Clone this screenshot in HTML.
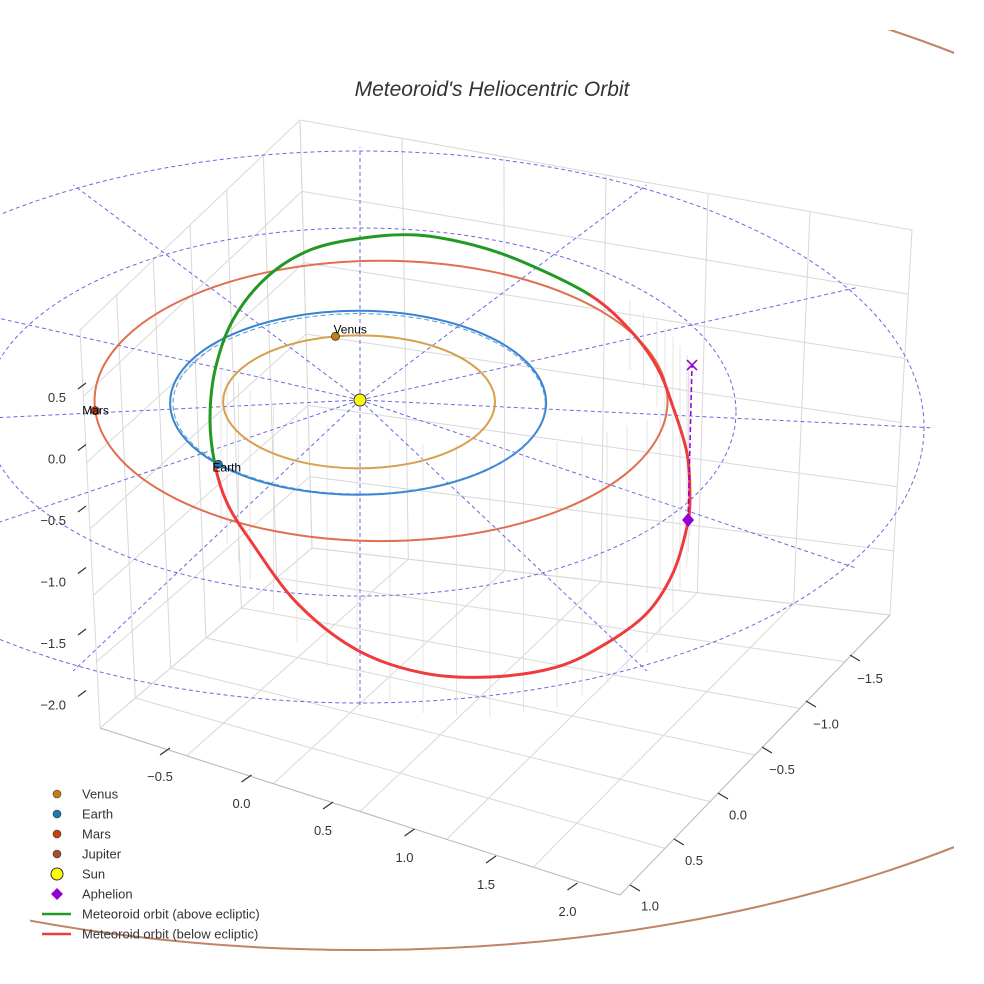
<!DOCTYPE html>
<html><head><meta charset="utf-8"><style>
html,body{margin:0;padding:0;background:#fff}
svg{display:block;font-family:"Liberation Sans",sans-serif}
</style></head><body>
<svg id="chart" width="984" height="984" viewBox="0 0 984 984" xmlns="http://www.w3.org/2000/svg">
<text x="492" y="96" text-anchor="middle" font-size="21" font-style="italic" fill="#333">Meteoroid's Heliocentric Orbit</text>
<g id="box"></g>
<g id="ecl"></g>
<g id="marks"></g>
<g id="ticks"></g>
<g id="legend"></g>
</svg>
<script>
// ---- data ----
const planetNames = ["Venus","Earth","Mars","Jupiter"];
const planetRadii = [0.723, 1.0, 1.524, 5.2];
const planetCenterX = [-0.005, -0.01, 0.112];
const planetCenterY = [-0.02, -0.03, -0.01];
const planetAngles = [100, 222, 184];
const planetColors = ["#c8800a","#1f77b4","#c8400c","#a0522d"];
const orbitColors = ["#d6a04c","#3b82d0","#e07050","#c08466"];
const ringRadii = [2, 3];
const spokeAngles = [0,30,60,90,120,150,180,210,240,270,300,330];
// meteoroid orbit (ecliptic-projected coords, AU), closed loop (last point = first)
const orbitX = [-0.771,-0.798,-0.771,-0.676,-0.495,-0.266,0.016,0.303,0.601,0.867,1.223,1.436,1.580,1.665,1.739,1.755,1.739,1.665,1.527,1.314,1.048,0.691,0.335,-0.016,-0.335,-0.585,-0.707,-0.771];
const orbitY = [-0.707,-0.217,0.326,0.870,1.337,1.630,1.761,1.793,1.685,1.500,1.141,0.761,0.359,-0.076,-0.576,-1.054,-1.380,-1.880,-2.315,-2.641,-2.902,-3.011,-2.967,-2.717,-2.207,-1.522,-1.120,-0.707];
const aboveCount = 11;
const aphelion = [1.745,-1.304];
const aphelionTop = [1.766,0.380];
const zTicks = ["0.5","0.0","\u22120.5","\u22121.0","\u22121.5","\u22122.0"];
const xTicks = ["\u22120.5","0.0","0.5","1.0","1.5","2.0"];
const yTicks = ["\u22121.5","\u22121.0","\u22120.5","0.0","0.5","1.0"];
const legendLabels = ["Venus","Earth","Mars","Jupiter","Sun","Aphelion","Meteoroid orbit (above ecliptic)","Meteoroid orbit (below ecliptic)"];

// ---- projection ----
const CX=360, CY=400, SX=188, SY=92;
function px(x){return CX+SX*x;}
function py(y,r){return CY-SY*y + 3*(r||0)*(r||0);}
const NS="http://www.w3.org/2000/svg";
function mk(tag,attrs,parent){const e=document.createElementNS(NS,tag);for(const k in attrs)e.setAttribute(k,attrs[k]);parent.appendChild(e);return e;}

// ---- box grid ----
const box=document.getElementById('box');
function ln(a,b,c,w){const l=mk('line',{x1:a[0],y1:a[1],x2:b[0],y2:b[1],stroke:c||'#d8d8d8','stroke-width':w||1},box);

}
const A=[100,728],B=[620,895],C=[890,615],D=[312,548];
const At=[80,330],Dt=[300,120],Ct=[912,230];
function lerp(p,q,t){return [p[0]+(q[0]-p[0])*t,p[1]+(q[1]-p[1])*t];}
for(let i=0;i<=6;i++){const t=i/6;ln(lerp(A,B,t),lerp(D,C,t));ln(lerp(A,D,t),lerp(B,C,t));}
for(let i=0;i<=6;i++){const t=i/6;ln(lerp(A,D,t),lerp(At,Dt,t));}
for(let i=0;i<=6;i++){const t=i/6;ln(lerp(A,At,t),lerp(D,Dt,t));}
for(let i=0;i<=6;i++){const t=i/6;ln(lerp(D,C,t),lerp(Dt,Ct,t));}
for(let i=0;i<=6;i++){const t=i/6;ln(lerp(D,Dt,t),lerp(C,Ct,t));}
ln(A,B,'#bbb');ln(B,C,'#bbb');

// ---- ecliptic grid ----
const ecl=document.getElementById('ecl');
ringRadii.forEach(r=>{const e=mk('ellipse',{cx:CX,cy:py(0,r),rx:SX*r,ry:SY*r,fill:'none',stroke:'#6a6ae0','stroke-width':1,'stroke-dasharray':'4,3'},ecl);

});
spokeAngles.forEach(a=>{const r=3.05,t=a*Math.PI/180;const l=mk('line',{x1:CX,y1:CY,x2:px(r*Math.cos(t)),y2:py(r*Math.sin(t),r),stroke:'#6a6ae0','stroke-width':1,'stroke-dasharray':'4,3'},ecl);

});

// ---- meteoroid drop lines ----
const marks=document.getElementById('marks');
for(let i=aboveCount;i<orbitX.length-1;i++){
  for(let k=0;k<2;k++){
    const fx=orbitX[i]+(orbitX[i+1]-orbitX[i])*k/2, fy=orbitY[i]+(orbitY[i+1]-orbitY[i])*k/2;
    const x=px(fx),y=py(fy);
    const top=y-Math.max(30,(-fy+1.2)*55);
    const l=mk('line',{x1:x,y1:Math.min(y+40,760),x2:x,y2:top,stroke:'#dedede','stroke-width':0.8},marks);
    
    
  }
}

// ---- planet orbits ----
const defs=mk('defs',{},document.getElementById('chart'));
const cp=mk('clipPath',{id:'clip'},defs);mk('rect',{x:30,y:30,width:924,height:924},cp);
planetRadii.forEach((r,i)=>{
  const jup=r>4;
  const cx=jup?CX:px(planetCenterX[i]), cy=jup?450:CY-SY*planetCenterY[i];
  const e=mk('ellipse',{cx:cx,cy:cy,rx:SX*r,ry:jup?500:SY*r,fill:'none',stroke:orbitColors[i],'stroke-width':2,'clip-path':'url(#clip)'},marks);
  
  
});
const ed=mk('ellipse',{cx:px(planetCenterX[1])+1,cy:CY-SY*planetCenterY[1]+1,rx:SX*0.99,ry:SY*0.98,fill:'none',stroke:'#4a9ad8','stroke-width':1,'stroke-dasharray':'5,3'},marks);



// ---- meteoroid orbit (closed Catmull-Rom) ----
const N=orbitX.length-1;
const P=[];for(let i=0;i<N;i++)P.push([px(orbitX[i]),py(orbitY[i])]);
function seg(from,to){
  let d='M'+P[from%N][0]+','+P[from%N][1];
  for(let i=from;i<to;i++){
    const p0=P[(i-1+N)%N],p1=P[i%N],p2=P[(i+1)%N],p3=P[(i+2)%N];
    d+=' C'+(p1[0]+(p2[0]-p0[0])/6)+','+(p1[1]+(p2[1]-p0[1])/6)+' '+(p2[0]-(p3[0]-p1[0])/6)+','+(p2[1]-(p3[1]-p1[1])/6)+' '+p2[0]+','+p2[1];
  }
  return d;
}
const red=mk('path',{d:seg(aboveCount-1,N),fill:'none',stroke:'#ee3b3b','stroke-width':3,'stroke-linecap':'round'},marks);


const green=mk('path',{d:seg(0,aboveCount-1),fill:'none',stroke:'#229922','stroke-width':3},marks);



// ---- aphelion ----
const ax=px(aphelion[0]),ay=py(aphelion[1]),tx=px(aphelionTop[0]),ty=py(aphelionTop[1]);
const al=mk('line',{x1:ax,y1:ay,x2:tx,y2:ty,stroke:'#9400d3','stroke-width':1.5,'stroke-dasharray':'5,3'},marks);


const xm=mk('path',{d:`M${tx-5},${ty-5}L${tx+5},${ty+5}M${tx-5},${ty+5}L${tx+5},${ty-5}`,stroke:'#9400d3','stroke-width':1.5},marks);


const dm=mk('path',{d:`M${ax},${ay-7}L${ax+6},${ay}L${ax},${ay+7}L${ax-6},${ay}Z`,fill:'#9400d3'},marks);



// ---- planets ----
const labelDx=[-2,-6,-13], labelDy=[-3,7,4];
for(let i=0;i<3;i++){
  const t=planetAngles[i]*Math.PI/180, r=planetRadii[i];
  const x=px(planetCenterX[i]+r*Math.cos(t)), y=CY-SY*(planetCenterY[i]+r*Math.sin(t));
  const c=mk('circle',{cx:x,cy:y,r:4,fill:planetColors[i],stroke:'#333','stroke-width':0.8},marks);
  
  
  const tl=mk('text',{x:x+labelDx[i],y:y+labelDy[i],'font-size':12,fill:'#000'},marks);tl.textContent=planetNames[i];
  
  
}
const sun=mk('circle',{cx:CX,cy:CY,r:6,fill:'#ffff00',stroke:'#333','stroke-width':1},marks);



// ---- ticks ----
const tk=document.getElementById('ticks');
function tick(lbl,x,y,dx,dy,lx,ly,anchor,name){
  const l=mk('line',{x1:x,y1:y,x2:x+dx,y2:y+dy,stroke:'#333','stroke-width':1.2},tk);
  
  
  const t=mk('text',{x:lx,y:ly,'font-size':13,fill:'#333','text-anchor':anchor},tk);t.textContent=lbl;
  
  
}
zTicks.forEach((s,i)=>tick(s,78,389+i*61.5,8,-6,66,402+i*61.5,'end','z'));
xTicks.forEach((s,i)=>tick(s,170+i*81.5,748+i*27,-10,7,160+i*81.5,781+i*27,'middle','x'));
yTicks.forEach((s,i)=>tick(s,850-i*44,655+i*46,10,6,870-i*44,683+i*45.5,'middle','y'));

// ---- legend ----
const lg=document.getElementById('legend');
legendLabels.forEach((s,i)=>{
  const y=794+i*20;
  let m;
  if(i<4){m=mk('circle',{cx:57,cy:y,r:4,fill:planetColors[i],stroke:'#333','stroke-width':0.6},lg);}
  else if(i===4){m=mk('circle',{cx:57,cy:y,r:6,fill:'#ffff00',stroke:'#333','stroke-width':1},lg);}
  else if(i===5){m=mk('path',{d:`M57,${y-6}L63,${y}L57,${y+6}L51,${y}Z`,fill:'#9400d3'},lg);}
  else {m=mk('line',{x1:42,y1:y,x2:71,y2:y,stroke:i===6?'#229922':'#ee3b3b','stroke-width':2.5},lg);}
  
  
  const t=mk('text',{x:82,y:y+4.5,'font-size':13,fill:'#333'},lg);t.textContent=s;
  
  
});
</script>
</body></html>
